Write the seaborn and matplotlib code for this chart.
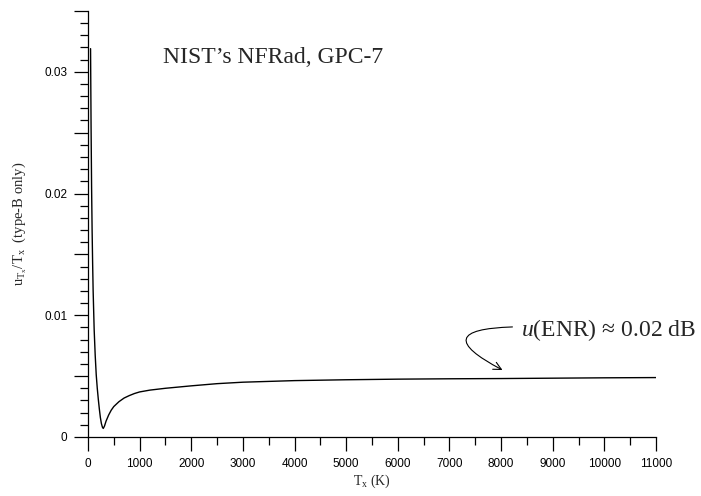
import matplotlib
matplotlib.use("Agg")
import matplotlib.pyplot as plt
from matplotlib.ticker import MultipleLocator, FuncFormatter
import seaborn as sns
import pandas as pd

# Source temperature T_x (K) and relative type-B uncertainty u_Tx/T_x
temperature_k = [50, 60, 70, 80, 90, 100, 120, 140, 160, 180, 200, 220, 240,
                 260, 280, 296, 320, 350, 400, 450, 500, 600, 700, 800, 900,
                 1000, 1200, 1500, 2000, 2500, 3000, 4000, 5000, 6000, 7000,
                 8000, 9000, 10000, 11000]
rel_uncertainty = [0.0319, 0.0255, 0.0205, 0.0170, 0.0143, 0.0120, 0.0088,
                   0.0067, 0.0051, 0.0040, 0.0031, 0.0023, 0.0016, 0.0011,
                   0.0008, 0.0007, 0.0009, 0.0013, 0.0018, 0.0022, 0.0025,
                   0.0029, 0.0032, 0.0034, 0.00357, 0.0037, 0.00385,
                   0.0040, 0.0042, 0.00438, 0.0045, 0.00463, 0.0047, 0.00475,
                   0.00478, 0.0048, 0.00483, 0.00486, 0.00488]

title_text = "NIST\u2019s NFRad, GPC-7"
note_text = r"$\it{u}$(ENR) " + "\u2248 0.02 dB"
x_label = r"T$_\mathrm{x}$ (K)"
y_label = r"u$_{\mathrm{T_x}}$/T$_\mathrm{x}$  (type-B only)"

df = pd.DataFrame({"T": temperature_k, "u": rel_uncertainty})

sns.set_theme(style="ticks")
plt.rcParams["font.family"] = ["Liberation Sans", "DejaVu Sans"]
plt.rcParams["mathtext.fontset"] = "custom"
plt.rcParams["mathtext.rm"] = "Liberation Serif"
plt.rcParams["mathtext.it"] = "Liberation Serif:italic"

fig = plt.figure(figsize=(7.01, 4.96), dpi=100)
ax = fig.add_axes([0.1255, 0.119, 0.8103, 0.859])

sns.lineplot(data=df, x="T", y="u", ax=ax, color="black", linewidth=1.0,
             sort=True)

ax.set_xlim(0, 11000)
ax.set_ylim(0, 0.035)

ax.xaxis.set_major_locator(MultipleLocator(1000))
ax.xaxis.set_minor_locator(MultipleLocator(500))
ax.yaxis.set_major_locator(MultipleLocator(0.005))
ax.yaxis.set_minor_locator(MultipleLocator(0.001))


def y_fmt(v, pos):
    k = round(v / 0.005)
    if k % 2 or k > 6:
        return ""
    if k == 0:
        return "0"
    return f"{v:.2f}"


ax.yaxis.set_major_formatter(FuncFormatter(y_fmt))
ax.xaxis.set_major_formatter(FuncFormatter(lambda v, p: f"{int(round(v))}"))

ax.tick_params(which="major", direction="out", length=10, width=0.9,
               color="black", labelsize=8.5, labelcolor="black", pad=5)
ax.tick_params(which="minor", direction="out", length=5.5, width=0.9,
               color="black")

sns.despine(ax=ax)
for side in ("left", "bottom"):
    ax.spines[side].set_color("black")
    ax.spines[side].set_linewidth(0.9)

ax.set_xlabel(x_label, fontsize=10, labelpad=2, family="Liberation Serif")
ax.set_ylabel(y_label, fontsize=10.5, labelpad=11, family="Liberation Serif")

ax.text(1444, 0.0307, title_text, fontsize=17, family="Liberation Serif",
        va="baseline", ha="left")
ax.text(8389, 0.0083, note_text, fontsize=17, family="Liberation Serif",
        va="baseline", ha="left")
ax.annotate("", xy=(8027, 0.0055), xytext=(8220, 0.00904),
            arrowprops=dict(arrowstyle="->", color="black", lw=0.8,
                            connectionstyle="arc3,rad=1.9",
                            shrinkA=0, shrinkB=0, mutation_scale=14))

fig.savefig("out.png", dpi=100, facecolor="white")
